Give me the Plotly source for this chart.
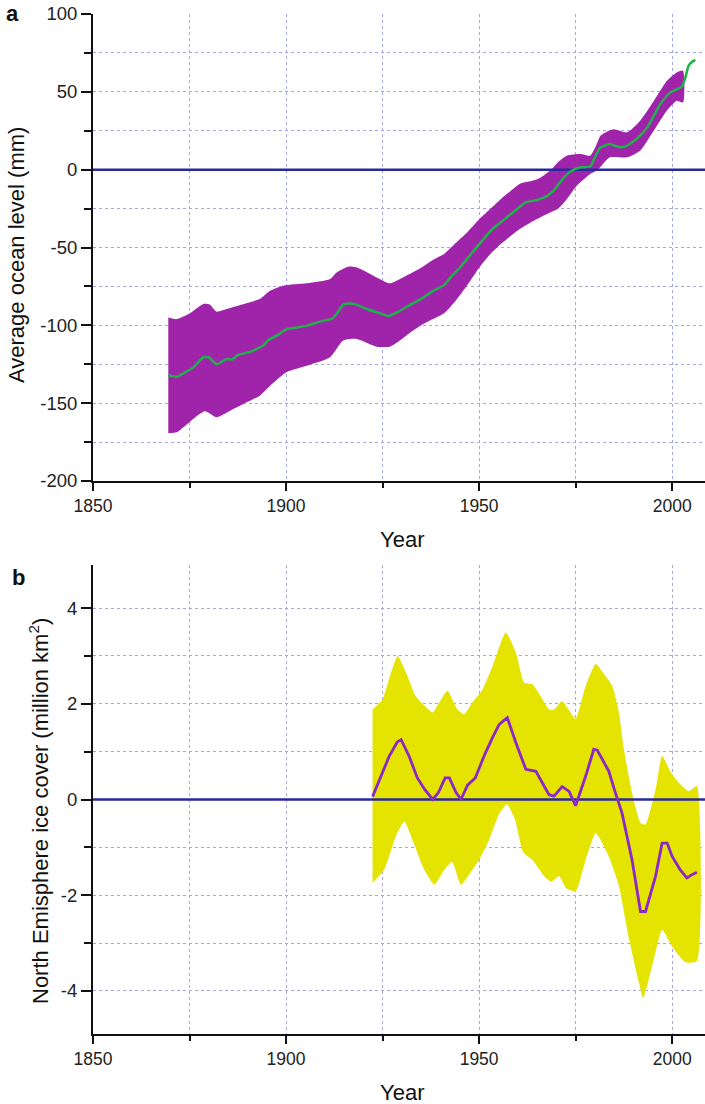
import plotly.graph_objects as go

# ---------------- Panel a: average ocean level (mm) ----------------
sea_line_years = [1869.5, 1871.7, 1874, 1876, 1878.6, 1880, 1882, 1884.6, 1886, 1887.6, 1890.7, 1894.1,
                  1895.4, 1897.6, 1900.2, 1902, 1905.4, 1909.7, 1911.8, 1913.1, 1914.8, 1916.6, 1918.3,
                  1920.9, 1924.4, 1926.5, 1929.5, 1932, 1935, 1938, 1941, 1943, 1945, 1947, 1950, 1952,
                  1954, 1956, 1958, 1960, 1962, 1965, 1967.5, 1969.3, 1971, 1972.7, 1974.5, 1976.2,
                  1978.8, 1980, 1981.3, 1983.9, 1985.5, 1987.4, 1989, 1990.9, 1993.5, 1996.9, 1999.5,
                  2002.5, 2003.4, 2004.2, 2005, 2006]
sea_line_mm = [-132, -133, -130, -127, -120.5, -120.5, -125, -121.6, -122, -119, -117, -113,
               -109.4, -106.6, -102.3, -101.7, -100.2, -97, -95.9, -92.7, -86.7, -85.9, -86.7,
               -89.5, -92.3, -94, -90.6, -87, -83, -78, -74, -68, -63, -57, -48, -42,
               -37, -33, -29, -25, -21, -19.5, -17, -13.5, -8, -3, 0, 1.5,
               2, 8, 14, 16.5, 15, 14.5, 16.5, 20, 27, 42, 49.5,
               53.3, 59, 66.5, 69, 70.5]

sea_upper_years = [1869.5, 1871.7, 1875.1, 1878.6, 1880.3, 1882, 1884.6, 1888.1, 1893.3, 1895.9, 1899.3,
                   1905.4, 1911.4, 1913.1, 1916.1, 1918.7, 1923.5, 1926.9, 1929.5, 1932, 1935, 1938,
                   1941, 1944, 1947, 1950, 1953, 1956, 1958, 1960.6, 1964, 1966, 1968.4, 1970.5,
                   1972.7, 1976.2, 1978.8, 1980.2, 1981.5, 1984.8, 1988.3, 1991.7, 1995.2, 1998.6,
                   2001.2, 2002.8]
sea_upper_mm = [-95, -96, -92.3, -86.3, -86.7, -91.2, -89.5, -86.9, -83, -77.7, -74.5,
                -73, -70.2, -66, -62.3, -63.1, -69.2, -73, -70.2, -67, -63, -58,
                -54, -47, -40, -32, -25, -18, -14, -9, -7, -5, -0.6, 5,
                9, 10, 9, 15, 22, 26, 24, 31.5, 44, 57,
                62.5, 63.6]

sea_lower_years = [1869.5, 1871.7, 1876, 1879, 1882, 1885.5, 1888.9, 1893.3, 1895.9, 1900.2, 1905.4,
                   1911.4, 1914.8, 1918.3, 1923.5, 1926.9, 1929.5, 1932, 1935, 1938, 1941, 1944,
                   1947, 1950, 1953, 1956, 1960, 1964, 1968, 1970.5, 1972.7, 1975.3, 1978.8, 1980.5,
                   1983.9, 1988.3, 1991.7, 1995.2, 1998.6, 2001.2, 2002.8]
sea_lower_mm = [-169.3, -168.7, -160, -155.2, -159, -154.8, -150.5, -145, -138.7, -130, -125.9,
                -120.5, -109.8, -108.7, -113.7, -113.7, -109.8, -105, -100, -96, -92, -84,
                -74, -63, -54, -47, -39, -33, -28, -25, -19, -10.3, -2.8, -0.6,
                7.9, 7.9, 12.2, 25, 37.9, 44.3, 43.2]

# ---------------- Panel b: North hemisphere ice cover (million km2) ----------------
ice_line_years = [1922.4, 1924.2, 1926.7, 1928.8, 1929.8, 1931.9, 1934, 1936, 1938, 1939.5, 1941.2,
                  1942.3, 1944, 1945.3, 1947, 1949, 1951.5, 1953.5, 1955.2, 1957.3, 1959.5, 1962.1,
                  1964.7, 1968.1, 1969.4, 1971.5, 1973.3, 1975, 1977.6, 1979.7, 1980.6, 1981.9,
                  1983.6, 1985.3, 1987, 1989.6, 1991.8, 1993.1, 1995.7, 1997.4, 1998.7, 2000,
                  2002.1, 2003.8, 2005.1, 2006.4]
ice_line_vals = [0.06, 0.4, 0.9, 1.2, 1.25, 0.9, 0.45, 0.2, 0.0, 0.15, 0.45,
                 0.45, 0.15, 0.0, 0.3, 0.45, 0.95, 1.3, 1.57, 1.71, 1.19, 0.63,
                 0.59, 0.1, 0.07, 0.27, 0.17, -0.13, 0.49, 1.05, 1.03, 0.84,
                 0.59, 0.14, -0.28, -1.26, -2.34, -2.34, -1.6, -0.91, -0.91, -1.19,
                 -1.47, -1.64, -1.57, -1.52]

ice_upper_years = [1922.4, 1925, 1927, 1928.9, 1931.1, 1933.6, 1936, 1938, 1939.7, 1941.8, 1944.4,
                   1946.1, 1948.3, 1950.9, 1953.5, 1956.9, 1959.5, 1961.7, 1963.8, 1966, 1968.1,
                   1969.4, 1971.5, 1973, 1975, 1977.6, 1980.2, 1982.7, 1984.5, 1986.2, 1987.5,
                   1989.6, 1991.8, 1993.1, 1995.7, 1997.4, 1999.5, 2001.7, 2004.3, 2006.4]
ice_upper_vals = [1.88, 2.09, 2.6, 3.0, 2.65, 2.16, 1.95, 1.82, 2.03, 2.27, 1.88,
                  1.78, 2.03, 2.3, 2.79, 3.49, 3.07, 2.44, 2.41, 2.15, 1.88,
                  1.88, 2.06, 1.9, 1.68, 2.37, 2.83, 2.58, 2.37, 1.82, 1.05,
                  0.14, -0.49, -0.52, 0.21, 0.91, 0.59, 0.35, 0.17, 0.28]

ice_lower_years = [1922.4, 1925.4, 1928.6, 1930.6, 1933.2, 1935.8, 1938.4, 1941, 1943, 1945.3, 1947.4,
                   1950, 1952.6, 1955.2, 1957.2, 1959.3, 1961.4, 1963.8, 1966.8, 1968.7, 1970.7,
                   1972.5, 1975, 1977.6, 1980.2, 1983.6, 1986.2, 1988.8, 1991.3, 1992.5, 1995.2,
                   1997.4, 2000, 2003.4, 2006.4]
ice_lower_vals = [-1.74, -1.47, -0.73, -0.46, -0.94, -1.47, -1.78, -1.47, -1.3, -1.78, -1.57,
                  -1.26, -0.84, -0.3, -0.1, -0.42, -1.1, -1.26, -1.6, -1.72, -1.6,
                  -1.85, -1.92, -1.26, -0.7, -1.19, -1.8, -2.9, -3.8, -4.15, -3.35,
                  -2.72, -3.07, -3.4, -3.38]

# axes / tick labels
x_range = [1850, 2008.5]
sea_ticks = [-200, -150, -100, -50, 0, 50, 100]
sea_ticktext = ["-200", "-150", "-100", "-50", "0", "50", "100"]
sea_minor = [-175, -125, -75, -25, 25, 75]
ice_ticks = [-4, -2, 0, 2, 4]
ice_ticktext = ["-4", "-2", "0", "2", "4"]
ice_minor = [-3, -1, 1, 3]
zero_years = [1850, 2008.5]
zero_vals = [0, 0]

# colours / styles
band_a = "rgb(160,36,170)"
line_a = "rgb(30,178,72)"
band_b = "rgb(229,227,0)"
line_b = "rgb(140,40,200)"
zero_col = "rgb(40,40,160)"
grid_col = "rgb(165,165,230)"
FONT = "Liberation Sans, Arial, sans-serif"

W, H = 705, 1104
def px(p):  # window column -> paper x
    return p / W
def py(p):  # window row -> paper y
    return 1 - p / H

fig = go.Figure()

# panel a
fig.add_trace(go.Scatter(
    x=sea_upper_years + sea_lower_years[::-1],
    y=sea_upper_mm + sea_lower_mm[::-1],
    fill="toself", fillcolor=band_a, mode="lines",
    line=dict(width=0, color=band_a, shape="spline", smoothing=0.6),
    xaxis="x", yaxis="y", hoverinfo="skip", showlegend=False))
fig.add_trace(go.Scatter(x=zero_years, y=zero_vals, mode="lines",
                         line=dict(color=zero_col, width=2.5), xaxis="x", yaxis="y", showlegend=False))
fig.add_trace(go.Scatter(x=sea_line_years, y=sea_line_mm, mode="lines",
                         line=dict(color=line_a, width=2.5, shape="spline", smoothing=0.5),
                         xaxis="x", yaxis="y", showlegend=False))

# panel b
fig.add_trace(go.Scatter(
    x=ice_upper_years + ice_lower_years[::-1],
    y=ice_upper_vals + ice_lower_vals[::-1],
    fill="toself", fillcolor=band_b, mode="lines",
    line=dict(width=0, color=band_b, shape="spline", smoothing=0.5),
    xaxis="x2", yaxis="y2", hoverinfo="skip", showlegend=False))
fig.add_trace(go.Scatter(x=zero_years, y=zero_vals, mode="lines",
                         line=dict(color=zero_col, width=2.5), xaxis="x2", yaxis="y2", showlegend=False))
fig.add_trace(go.Scatter(x=ice_line_years, y=ice_line_vals, mode="lines",
                         line=dict(color=line_b, width=2.8),
                         xaxis="x2", yaxis="y2", showlegend=False))

xtickfont = dict(family=FONT, size=17.5, color="#222")
ytickfont = dict(family=FONT, size=18.5, color="#222")
common_x = dict(range=x_range, domain=[px(93), 1.0], tickmode="linear", tick0=1850, dtick=50,
                ticks="outside", ticklen=8, tickwidth=2, tickcolor="#111", automargin=False,
                showline=True, linecolor="#111", linewidth=2,
                showgrid=True, gridcolor=grid_col, griddash="dot", gridwidth=1,
                zeroline=False, tickfont=xtickfont,
                minor=dict(dtick=25, tick0=1850, ticks="outside", ticklen=5, tickwidth=2, tickcolor="#111",
                           showgrid=True, gridcolor=grid_col, griddash="dot", gridwidth=1))
common_y = dict(ticks="outside", ticklen=10, tickwidth=2, tickcolor="#111", automargin=False,
                showline=True, linecolor="#111", linewidth=2,
                showgrid=True, gridcolor=grid_col, griddash="dot", gridwidth=1,
                zeroline=False, tickfont=ytickfont, tickmode="array")
minor_y = dict(ticks="outside", ticklen=7, tickwidth=2, tickcolor="#111",
               showgrid=True, gridcolor=grid_col, griddash="dot", gridwidth=1)

fig.update_layout(
    width=W, height=H, margin=dict(l=0, r=0, t=0, b=0, autoexpand=False),
    paper_bgcolor="white", plot_bgcolor="white",
    xaxis=dict(common_x, anchor="y"),
    yaxis=dict(common_y, range=[-200, 100], domain=[py(481), py(14)], anchor="x",
               tickvals=sea_ticks, ticktext=sea_ticktext,
               minor=dict(minor_y, tickvals=sea_minor)),
    xaxis2=dict(common_x, anchor="y2"),
    yaxis2=dict(common_y, range=[-4.9, 4.9], domain=[py(1034), py(565)], anchor="x2",
                tickvals=ice_ticks, ticktext=ice_ticktext,
                minor=dict(minor_y, tickvals=ice_minor)),
)

TF = dict(family=FONT, size=22, color="#111")
ann = [
    dict(text="<b>a</b>", x=px(12), y=py(14), font=dict(family=FONT, size=22, color="#111")),
    dict(text="<b>b</b>", x=px(18), y=py(577), font=dict(family=FONT, size=22, color="#111")),
    dict(text="Average ocean level (mm)", x=px(17), y=py(255), textangle=-90, font=TF),
    dict(text="North Emisphere ice cover (million km<sup>2</sup>)", x=px(39), y=py(811),
         textangle=-90, font=TF),
    dict(text="Year", x=px(402), y=py(539), font=TF),
    dict(text="Year", x=px(402), y=py(1092), font=TF),
]
for a in ann:
    a.update(xref="paper", yref="paper", showarrow=False, xanchor="center", yanchor="middle")
fig.update_layout(annotations=ann)

fig.write_html("out.html")
